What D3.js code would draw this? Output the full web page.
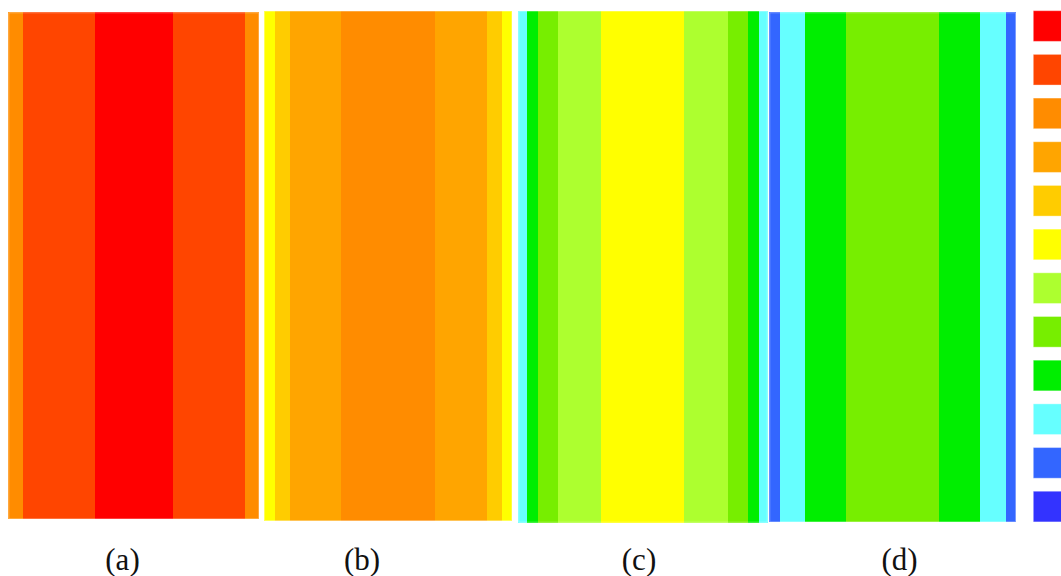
<!DOCTYPE html>
<html>
<head>
<meta charset="utf-8">
<script src="https://cdn.jsdelivr.net/npm/d3@7"></script>
<style>
  html, body { margin: 0; padding: 0; background: #fff; }
  svg { display: block; }
</style>
</head>
<body>
<svg id="chart" width="1061" height="576"></svg>
<script>
// Colour levels, shared by every panel and by the legend column.
const levelColors = ["#ff0000", "#ff4500", "#ff8c00", "#ffa500", "#ffcc00", "#ffff00",
                     "#adff2f", "#77ee00", "#00ee00", "#66ffff", "#3366ff", "#3333ff"];

// Panel names.
const panelLabels = ["(a)", "(b)", "(c)", "(d)"];

// Band boundaries across each panel (fraction of the panel width).
const bandEdgesA = [0, 0.058, 0.345, 0.655, 0.942, 1];
const bandEdgesB = [0, 0.043, 0.105, 0.311, 0.689, 0.897, 0.960, 1];
const bandEdgesC = [0, 0.035, 0.080, 0.160, 0.333, 0.666, 0.840, 0.920, 0.965, 1];
const bandEdgesD = [0, 0.042, 0.143, 0.311, 0.689, 0.855, 0.958, 1];

// Level of each band (index into levelColors).
const bandLevelsA = [2, 1, 0, 1, 2];
const bandLevelsB = [5, 4, 3, 2, 3, 4, 5];
const bandLevelsC = [9, 8, 7, 6, 5, 6, 7, 8, 9];
const bandLevelsD = [10, 9, 8, 7, 8, 9, 10];

// Panel frames on the page: [left, right, top, bottom].
const panelFrames = [
  [8.3, 259.3, 12.3, 519.3],
  [264, 512.3, 10.7, 521],
  [518.3, 767.7, 10.7, 522.7],
  [769.3, 1016, 12.3, 522.3]
];
const labelCenters = [122.5, 362, 639, 899.5];
const labelBaseline = 570;

const svg = d3.select("#chart");
const colorScale = d3.scaleOrdinal().domain(d3.range(levelColors.length)).range(levelColors);

const panels = [
  { edges: bandEdgesA, levels: bandLevelsA },
  { edges: bandEdgesB, levels: bandLevelsB },
  { edges: bandEdgesC, levels: bandLevelsC },
  { edges: bandEdgesD, levels: bandLevelsD }
];

panels.forEach((p, i) => {
  const [x0, x1, y0, y1] = panelFrames[i];
  const x = d3.scaleLinear().domain([0, 1]).range([x0, x1]);
  const bands = p.levels.map((lv, j) => ({ a: p.edges[j], b: p.edges[j + 1], lv }));
  const g = svg.append("g").attr("class", "panel");
  g.selectAll("rect.band")
    .data(bands)
    .join("rect")
    .attr("class", "band")
    .attr("x", d => x(d.a))
    .attr("width", d => x(d.b) - x(d.a))
    .attr("y", y0)
    .attr("height", y1 - y0)
    .attr("fill", d => colorScale(d.lv))
    .attr("shape-rendering", "crispEdges");
  // soft light rim around the panel
  g.append("rect")
    .attr("x", x0 + 0.5).attr("y", y0 + 0.5)
    .attr("width", x1 - x0 - 1).attr("height", y1 - y0 - 1)
    .attr("fill", "none")
    .attr("stroke", "#ffffff")
    .attr("stroke-opacity", 0.35)
    .attr("stroke-width", 1);
});

// Panel labels
svg.selectAll("text.plabel")
  .data(panelLabels)
  .join("text")
  .attr("class", "plabel")
  .attr("x", (d, i) => labelCenters[i])
  .attr("y", labelBaseline)
  .attr("text-anchor", "middle")
  .attr("font-family", "'Liberation Serif', 'Times New Roman', serif")
  .attr("font-size", 31)
  .attr("fill", "#111")
  .text(d => d);

// Legend column of colour swatches
const legendY = d3.scaleBand()
  .domain(d3.range(levelColors.length))
  .range([10.7, 521.9])
  .paddingInner(13 / 43.6)
  .paddingOuter(0)
  .align(0);

svg.selectAll("rect.swatch")
  .data(levelColors)
  .join("rect")
  .attr("class", "swatch")
  .attr("x", 1033.3)
  .attr("y", (d, i) => legendY(i))
  .attr("width", 40)
  .attr("height", legendY.bandwidth())
  .attr("fill", d => d)
  .attr("stroke", "#ffffff")
  .attr("stroke-opacity", 0.35);
</script>
</body>
</html>
